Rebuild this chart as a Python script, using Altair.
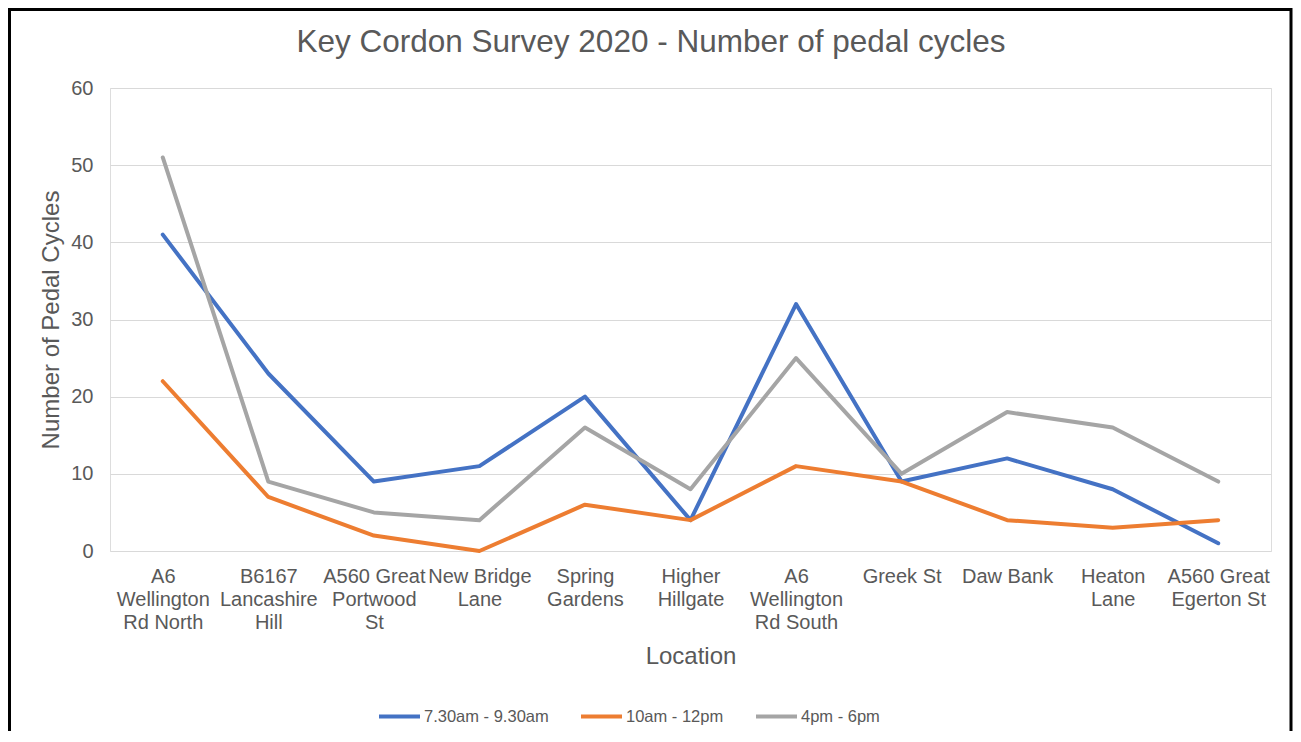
import altair as alt
import pandas as pd

locations = [
    "A6|Wellington|Rd North",
    "B6167|Lancashire|Hill",
    "A560 Great|Portwood|St",
    "New Bridge|Lane",
    "Spring|Gardens",
    "Higher|Hillgate",
    "A6|Wellington|Rd South",
    "Greek St",
    "Daw Bank",
    "Heaton|Lane",
    "A560 Great|Egerton St",
]
series_names = ["7.30am - 9.30am", "10am - 12pm", "4pm - 6pm"]
am_peak = [41, 23, 9, 11, 20, 4, 32, 9, 12, 8, 1]
midday = [22, 7, 2, 0, 6, 4, 11, 9, 4, 3, 4]
pm_peak = [51, 9, 5, 4, 16, 8, 25, 10, 18, 16, 9]
colors = ["#4472C4", "#ED7D31", "#A5A5A5"]
chart_title = "Key Cordon Survey 2020 - Number of pedal cycles"

rows = []
for name, vals in zip(series_names, [am_peak, midday, pm_peak]):
    for loc, v in zip(locations, vals):
        rows.append({"Location": loc, "Period": name, "Cycles": v})
df = pd.DataFrame(rows)

FONT = "Liberation Sans"
GREY = "#595959"

lines = alt.Chart(df).mark_line(strokeWidth=4, strokeCap="round", strokeJoin="round").encode(
    x=alt.X(
        "Location:N",
        sort=locations,
        scale=alt.Scale(type="point", padding=0.5),
        axis=alt.Axis(
            title="Location",
            labelExpr="split(datum.value, '|')",
            labelAngle=0,
            labelFontSize=20,
            labelLineHeight=23,
            labelColor=GREY,
            labelFont=FONT,
            labelPadding=15,
            ticks=False,
            domain=False,
            grid=False,
            titleFontSize=24,
            titleFont=FONT,
            titleColor=GREY,
            titleFontWeight="normal",
            titleBaseline="alphabetic",
            titleY=112,
            labelOverlap=False,
        ),
    ),
    y=alt.Y(
        "Cycles:Q",
        scale=alt.Scale(domain=[0, 60]),
        axis=alt.Axis(
            title="Number of Pedal Cycles",
            values=[0, 10, 20, 30, 40, 50, 60],
            labelFontSize=20,
            labelColor=GREY,
            labelFont=FONT,
            labelPadding=17,
            ticks=False,
            domain=False,
            grid=True,
            gridColor="#d9d9d9",
            gridWidth=1.2,
            titleFontSize=24,
            titleFont=FONT,
            titleColor=GREY,
            titleFontWeight="normal",
            titleBaseline="alphabetic",
            titleX=-52,
            titleY=231.5,
            titleAngle=-90,
            titleAlign="center",
        ),
    ),
    color=alt.Color(
        "Period:N",
        sort=series_names,
        scale=alt.Scale(domain=series_names, range=colors),
        legend=alt.Legend(
            title=None,
            orient="none",
            direction="horizontal",
            legendX=267,
            legendY=606,
            symbolType="stroke",
            symbolSize=1681,
            symbolStrokeWidth=4,
            labelFontSize=16.5,
            labelFont=FONT,
            labelColor=GREY,
            labelOffset=2,
            columnPadding=24,
            padding=0,
        ),
    ),
)

title_mark = alt.Chart(alt.Data(values=[{"t": chart_title}])).mark_text(
    font=FONT, fontSize=31.5, color=GREY, align="center", baseline="alphabetic"
).encode(
    text="t:N",
    x=alt.value(541),
    y=alt.value(-36),
)

frame = alt.Chart(alt.Data(values=[{"a": 1}])).mark_rect(
    filled=False, stroke="black", strokeWidth=3
).encode(
    x=alt.value(-100.5),
    x2=alt.value(1181),
    y=alt.value(-78.5),
    y2=alt.value(700),
)

chart = alt.layer(lines, title_mark, frame).properties(
    width=1161,
    height=463,
    padding={"left": 102, "top": 80, "right": 22, "bottom": 180},
    autosize=alt.AutoSizeParams(type="none"),
).configure_view(stroke=None).configure(background="white")

chart.save("out.html", embed_options={"renderer": "svg", "actions": False})
